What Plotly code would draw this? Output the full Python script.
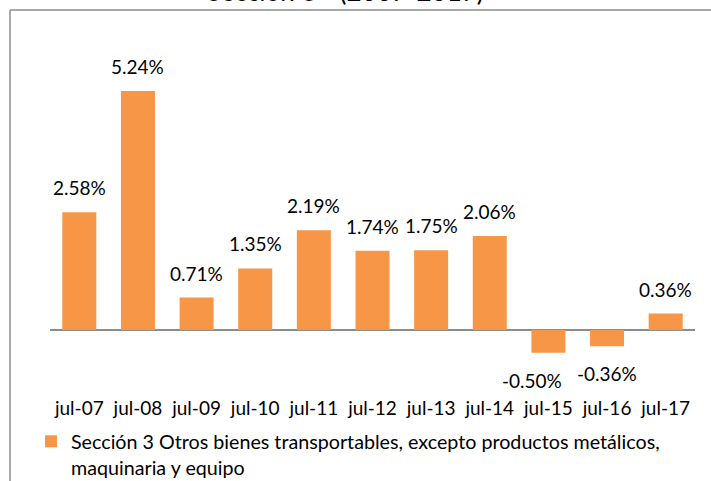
import plotly.graph_objects as go

categories = ["jul-07", "jul-08", "jul-09", "jul-10", "jul-11", "jul-12",
              "jul-13", "jul-14", "jul-15", "jul-16", "jul-17"]
values = [2.58, 5.24, 0.71, 1.35, 2.19, 1.74, 1.75, 2.06, -0.50, -0.36, 0.36]
series_name = ("Sección 3 Otros bienes transportables, excepto productos metálicos,"
               "<br>maquinaria y equipo")
title_text = "Sección 3 - (2007-2017)"

FONT = "Lato"
ORANGE = "#F79646"
W, H = 711, 481
ML, MR, MT, MB = 50, 16, 56, 105
PW, PH = W - ML - MR, H - MT - MB

# manual nudges of individual data labels (as placed in the original)
label_xshift = {"jul-15": -16}


def px_x(p):
    return (p - ML) / PW


def px_y(p):
    return 1 - (p - MT) / PH


fig = go.Figure()
fig.add_trace(go.Bar(
    x=categories, y=values, name=series_name,
    marker=dict(color=ORANGE, line=dict(width=0)),
    showlegend=True, hoverinfo="x+y",
))

annotations = []
for c, v in zip(categories, values):
    annotations.append(dict(
        x=c, y=v, xref="x", yref="y", text=f"{v:.2f}%", showarrow=False,
        yanchor="bottom" if v >= 0 else "top",
        yshift=11 if v >= 0 else -14,
        xshift=label_xshift.get(c, 0),
        font=dict(family=FONT, size=19, color="#000000"),
    ))

annotations.append(dict(
    x=px_x(345), y=px_y(-9), xref="paper", yref="paper", text=title_text,
    showarrow=False, xanchor="center", yanchor="middle",
    font=dict(family=FONT, size=26, color="#000000"),
))

fig.update_layout(
    width=W, height=H,
    margin=dict(l=ML, r=MR, t=MT, b=MB, pad=0, autoexpand=False),
    paper_bgcolor="white", plot_bgcolor="white",
    bargap=0.42,
    showlegend=True,
    legend=dict(
        x=px_x(31), y=px_y(422), xanchor="left", yanchor="top",
        orientation="v", valign="top",
        font=dict(family=FONT, size=19.7, color="#000000"),
        bgcolor="rgba(0,0,0,0)", itemwidth=30,
    ),
    xaxis=dict(
        showgrid=False, showline=False, zeroline=False,
        ticks="outside", ticklen=15, tickcolor="rgba(0,0,0,0)",
        tickfont=dict(family=FONT, size=19, color="#000000"),
    ),
    yaxis=dict(
        range=[-1.01, 6.01], showgrid=False, showticklabels=False,
        zeroline=True, zerolinecolor="#8c8c8c", zerolinewidth=1.5,
        showline=False, ticks="",
    ),
    annotations=annotations,
    shapes=[
        dict(type="line", xref="paper", yref="paper",
             x0=px_x(10), x1=px_x(730), y0=px_y(10), y1=px_y(10),
             line=dict(color="#8c8c8c", width=1.5)),
        dict(type="line", xref="paper", yref="paper",
             x0=px_x(10), x1=px_x(10), y0=px_y(10), y1=px_y(500),
             line=dict(color="#8c8c8c", width=1.5)),
    ],
)

fig.write_html(
    "out.html",
    config={"displayModeBar": False},
    post_script="document.body.style.margin='0';document.body.style.overflow='hidden';",
)
